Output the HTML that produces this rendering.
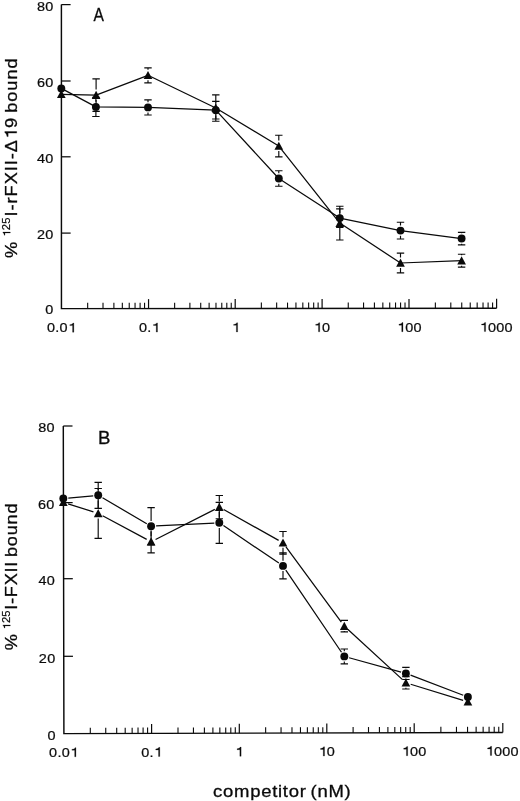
<!DOCTYPE html>
<html><head><meta charset="utf-8"><title>chart</title>
<style>html,body{margin:0;padding:0;background:#fff}body{width:520px;height:801px;overflow:hidden}text{font-family:"Liberation Sans",sans-serif;white-space:pre}</style>
</head><body>
<svg width="520" height="801" viewBox="0 0 520 801" style="display:block;filter:grayscale(1)">
<rect width="520" height="801" fill="#fff"/>
<path d="M61.4 4.6 L61.45 308.6 L496.6 308.2" stroke="#0a0a0a" stroke-width="1.45" fill="none"/>
<path d="M61.4 4.6 H70.6" stroke="#0a0a0a" stroke-width="1.25"/>
<g transform="translate(37.56 10.6)"><text transform="translate(-0.63 0) scale(1.1023 1)" font-size="13.1" fill="#0a0a0a" stroke="#0a0a0a" stroke-width="0.22">8</text><text transform="translate(7.67 0) scale(1.1023 1)" font-size="13.1" fill="#0a0a0a" stroke="#0a0a0a" stroke-width="0.22">0</text></g>
<path d="M61.41 81 H70.61" stroke="#0a0a0a" stroke-width="1.25"/>
<g transform="translate(37.67 86.8)"><text transform="translate(-0.73 0) scale(1.1023 1)" font-size="13.1" fill="#0a0a0a" stroke="#0a0a0a" stroke-width="0.22">6</text><text transform="translate(7.57 0) scale(1.1023 1)" font-size="13.1" fill="#0a0a0a" stroke="#0a0a0a" stroke-width="0.22">0</text></g>
<path d="M61.42 156.8 H70.62" stroke="#0a0a0a" stroke-width="1.25"/>
<g transform="translate(37.26 163.1)"><text transform="translate(-0.33 0) scale(1.1023 1)" font-size="13.1" fill="#0a0a0a" stroke="#0a0a0a" stroke-width="0.22">4</text><text transform="translate(7.97 0) scale(1.1023 1)" font-size="13.1" fill="#0a0a0a" stroke="#0a0a0a" stroke-width="0.22">0</text></g>
<path d="M61.44 233.1 H70.64" stroke="#0a0a0a" stroke-width="1.25"/>
<g transform="translate(37.66 239.2)"><text transform="translate(-0.73 0) scale(1.1023 1)" font-size="13.1" fill="#0a0a0a" stroke="#0a0a0a" stroke-width="0.22">2</text><text transform="translate(7.57 0) scale(1.1023 1)" font-size="13.1" fill="#0a0a0a" stroke="#0a0a0a" stroke-width="0.22">0</text></g>
<g transform="translate(45.8 314.2)"><text transform="translate(-0.56 0) scale(1.1023 1)" font-size="13.1" fill="#0a0a0a" stroke="#0a0a0a" stroke-width="0.22">0</text></g>
<g transform="translate(47.54 332.2)"><text transform="translate(-0.56 0) scale(1.1023 1)" font-size="13.1" fill="#0a0a0a" stroke="#0a0a0a" stroke-width="0.22">0</text><text transform="translate(7.74 0) scale(1.1023 1)" font-size="13.1" fill="#0a0a0a" stroke="#0a0a0a" stroke-width="0.22">.</text><text transform="translate(12.02 0) scale(1.1023 1)" font-size="13.1" fill="#0a0a0a" stroke="#0a0a0a" stroke-width="0.22">0</text><path transform="translate(20.32 0) scale(1.1023 1)" d="M5.44 0 L5.44 -9.17 L4.62 -9.17 C4.32 -8.19 2.95 -7.57 1.77 -7.49 L1.77 -6.59 L4.28 -6.59 L4.28 0 Z" fill="#0a0a0a" stroke="#0a0a0a" stroke-width="0.22"/></g>
<path d="M87.67 308.58 V302.78" stroke="#0a0a0a" stroke-width="1.1"/>
<path d="M103.01 308.56 V302.76" stroke="#0a0a0a" stroke-width="1.1"/>
<path d="M113.89 308.55 V302.75" stroke="#0a0a0a" stroke-width="1.1"/>
<path d="M122.33 308.54 V302.74" stroke="#0a0a0a" stroke-width="1.1"/>
<path d="M129.23 308.54 V302.74" stroke="#0a0a0a" stroke-width="1.1"/>
<path d="M135.06 308.53 V302.73" stroke="#0a0a0a" stroke-width="1.1"/>
<path d="M140.11 308.53 V302.73" stroke="#0a0a0a" stroke-width="1.1"/>
<path d="M144.56 308.52 V302.72" stroke="#0a0a0a" stroke-width="1.1"/>
<path d="M148.55 308.52 V299.12" stroke="#0a0a0a" stroke-width="1.2"/>
<g transform="translate(139.49 332.08)"><text transform="translate(-0.56 0) scale(1.1023 1)" font-size="13.1" fill="#0a0a0a" stroke="#0a0a0a" stroke-width="0.22">0</text><text transform="translate(7.74 0) scale(1.1023 1)" font-size="13.1" fill="#0a0a0a" stroke="#0a0a0a" stroke-width="0.22">.</text><path transform="translate(12.02 0) scale(1.1023 1)" d="M5.44 0 L5.44 -9.17 L4.62 -9.17 C4.32 -8.19 2.95 -7.57 1.77 -7.49 L1.77 -6.59 L4.28 -6.59 L4.28 0 Z" fill="#0a0a0a" stroke="#0a0a0a" stroke-width="0.22"/></g>
<path d="M174.63 308.5 V302.7" stroke="#0a0a0a" stroke-width="1.1"/>
<path d="M189.89 308.48 V302.68" stroke="#0a0a0a" stroke-width="1.1"/>
<path d="M200.72 308.47 V302.67" stroke="#0a0a0a" stroke-width="1.1"/>
<path d="M209.12 308.46 V302.66" stroke="#0a0a0a" stroke-width="1.1"/>
<path d="M215.98 308.46 V302.66" stroke="#0a0a0a" stroke-width="1.1"/>
<path d="M221.78 308.45 V302.65" stroke="#0a0a0a" stroke-width="1.1"/>
<path d="M226.8 308.45 V302.65" stroke="#0a0a0a" stroke-width="1.1"/>
<path d="M231.24 308.44 V302.64" stroke="#0a0a0a" stroke-width="1.1"/>
<path d="M235.2 308.44 V299.04" stroke="#0a0a0a" stroke-width="1.2"/>
<g transform="translate(233.58 331.96)"><path transform="translate(-1.95 0) scale(1.1023 1)" d="M5.44 0 L5.44 -9.17 L4.62 -9.17 C4.32 -8.19 2.95 -7.57 1.77 -7.49 L1.77 -6.59 L4.28 -6.59 L4.28 0 Z" fill="#0a0a0a" stroke="#0a0a0a" stroke-width="0.22"/></g>
<path d="M261.36 308.42 V302.62" stroke="#0a0a0a" stroke-width="1.1"/>
<path d="M276.66 308.4 V302.6" stroke="#0a0a0a" stroke-width="1.1"/>
<path d="M287.52 308.39 V302.59" stroke="#0a0a0a" stroke-width="1.1"/>
<path d="M295.94 308.38 V302.58" stroke="#0a0a0a" stroke-width="1.1"/>
<path d="M302.82 308.38 V302.58" stroke="#0a0a0a" stroke-width="1.1"/>
<path d="M308.64 308.37 V302.57" stroke="#0a0a0a" stroke-width="1.1"/>
<path d="M313.68 308.37 V302.57" stroke="#0a0a0a" stroke-width="1.1"/>
<path d="M318.12 308.36 V302.56" stroke="#0a0a0a" stroke-width="1.1"/>
<path d="M322.1 308.36 V298.96" stroke="#0a0a0a" stroke-width="1.2"/>
<g transform="translate(315.69 331.84)"><path transform="translate(-1.95 0) scale(1.1023 1)" d="M5.44 0 L5.44 -9.17 L4.62 -9.17 C4.32 -8.19 2.95 -7.57 1.77 -7.49 L1.77 -6.59 L4.28 -6.59 L4.28 0 Z" fill="#0a0a0a" stroke="#0a0a0a" stroke-width="0.22"/><text transform="translate(6.35 0) scale(1.1023 1)" font-size="13.1" fill="#0a0a0a" stroke="#0a0a0a" stroke-width="0.22">0</text></g>
<path d="M348.26 308.34 V302.54" stroke="#0a0a0a" stroke-width="1.1"/>
<path d="M363.56 308.32 V302.52" stroke="#0a0a0a" stroke-width="1.1"/>
<path d="M374.42 308.31 V302.51" stroke="#0a0a0a" stroke-width="1.1"/>
<path d="M382.84 308.3 V302.5" stroke="#0a0a0a" stroke-width="1.1"/>
<path d="M389.72 308.3 V302.5" stroke="#0a0a0a" stroke-width="1.1"/>
<path d="M395.54 308.29 V302.49" stroke="#0a0a0a" stroke-width="1.1"/>
<path d="M400.58 308.29 V302.49" stroke="#0a0a0a" stroke-width="1.1"/>
<path d="M405.02 308.28 V302.48" stroke="#0a0a0a" stroke-width="1.1"/>
<path d="M409 308.28 V298.88" stroke="#0a0a0a" stroke-width="1.2"/>
<g transform="translate(398.94 331.72)"><path transform="translate(-1.95 0) scale(1.1023 1)" d="M5.44 0 L5.44 -9.17 L4.62 -9.17 C4.32 -8.19 2.95 -7.57 1.77 -7.49 L1.77 -6.59 L4.28 -6.59 L4.28 0 Z" fill="#0a0a0a" stroke="#0a0a0a" stroke-width="0.22"/><text transform="translate(6.35 0) scale(1.1023 1)" font-size="13.1" fill="#0a0a0a" stroke="#0a0a0a" stroke-width="0.22">0</text><text transform="translate(14.65 0) scale(1.1023 1)" font-size="13.1" fill="#0a0a0a" stroke="#0a0a0a" stroke-width="0.22">0</text></g>
<path d="M435.37 308.26 V302.46" stroke="#0a0a0a" stroke-width="1.1"/>
<path d="M450.8 308.24 V302.44" stroke="#0a0a0a" stroke-width="1.1"/>
<path d="M461.74 308.23 V302.43" stroke="#0a0a0a" stroke-width="1.1"/>
<path d="M470.23 308.22 V302.42" stroke="#0a0a0a" stroke-width="1.1"/>
<path d="M477.17 308.22 V302.42" stroke="#0a0a0a" stroke-width="1.1"/>
<path d="M483.03 308.21 V302.41" stroke="#0a0a0a" stroke-width="1.1"/>
<path d="M488.11 308.21 V302.41" stroke="#0a0a0a" stroke-width="1.1"/>
<path d="M492.59 308.2 V302.4" stroke="#0a0a0a" stroke-width="1.1"/>
<path d="M496.6 308.2 V298.8" stroke="#0a0a0a" stroke-width="1.2"/>
<g transform="translate(481.59 331.6)"><path transform="translate(-1.95 0) scale(1.1023 1)" d="M5.44 0 L5.44 -9.17 L4.62 -9.17 C4.32 -8.19 2.95 -7.57 1.77 -7.49 L1.77 -6.59 L4.28 -6.59 L4.28 0 Z" fill="#0a0a0a" stroke="#0a0a0a" stroke-width="0.22"/><text transform="translate(6.35 0) scale(1.1023 1)" font-size="13.1" fill="#0a0a0a" stroke="#0a0a0a" stroke-width="0.22">0</text><text transform="translate(14.65 0) scale(1.1023 1)" font-size="13.1" fill="#0a0a0a" stroke="#0a0a0a" stroke-width="0.22">0</text><text transform="translate(22.95 0) scale(1.1023 1)" font-size="13.1" fill="#0a0a0a" stroke="#0a0a0a" stroke-width="0.22">0</text></g>
<g transform="translate(93.49 20.9)"><text transform="translate(-0.03 0) scale(0.8420 1)" font-size="18.5" fill="#0a0a0a" stroke="#0a0a0a" stroke-width="0.3">A</text></g>
<path d="M61.3 88.4 L95.9 106.9 M95.9 106.9 L148 107.4 M148 107.4 L215.8 110.2 M215.8 110.2 L278.8 178.5 M278.8 178.5 L339.8 218.1 M339.8 218.1 L400.5 230.6 M400.5 230.6 L461.6 238.55" stroke="#0a0a0a" stroke-width="1.25" fill="none"/>
<path d="M61.3 94.3 L96.1 95.1 M96.1 95.1 L148 75.3 M148 75.3 L215.8 108 M215.8 108 L278.8 146.05 M278.8 146.05 L339.8 223.1 M339.8 223.1 L400.5 263 M400.5 263 L461.6 260.7" stroke="#0a0a0a" stroke-width="1.25" fill="none"/>
<path d="M92.2 116.5 H99.6 M92.2 97.3 H99.6 M95.9 97.3 V101.7 M95.9 112.1 V116.5" stroke="#0a0a0a" stroke-width="1.15" fill="none"/>
<path d="M144.3 115 H151.7 M144.3 99.8 H151.7 M148 99.8 V102.2 M148 112.6 V115" stroke="#0a0a0a" stroke-width="1.15" fill="none"/>
<path d="M212.1 119 H219.5 M212.1 101.4 H219.5 M215.8 101.4 V105 M215.8 115.4 V119" stroke="#0a0a0a" stroke-width="1.15" fill="none"/>
<path d="M275.1 186.25 H282.5 M275.1 170.75 H282.5 M278.8 170.75 V173.3 M278.8 183.7 V186.25" stroke="#0a0a0a" stroke-width="1.15" fill="none"/>
<path d="M336.1 227.4 H343.5 M336.1 208.8 H343.5 M339.8 208.8 V212.9 M339.8 223.3 V227.4" stroke="#0a0a0a" stroke-width="1.15" fill="none"/>
<path d="M396.8 239 H404.2 M396.8 222.2 H404.2 M400.5 222.2 V225.4 M400.5 235.8 V239" stroke="#0a0a0a" stroke-width="1.15" fill="none"/>
<path d="M457.9 244.8 H465.3 M457.9 232.3 H465.3 M461.6 232.3 V233.35 M461.6 243.75 V244.8" stroke="#0a0a0a" stroke-width="1.15" fill="none"/>
<path d="M92.4 111.3 H99.8 M92.4 78.9 H99.8 M96.1 78.9 V89.6 M96.1 100.1 V111.3" stroke="#0a0a0a" stroke-width="1.15" fill="none"/>
<path d="M144.3 82.8 H151.7 M144.3 67.8 H151.7 M148 67.8 V69.8 M148 80.3 V82.8" stroke="#0a0a0a" stroke-width="1.15" fill="none"/>
<path d="M212.1 121.2 H219.5 M212.1 94.8 H219.5 M215.8 94.8 V102.5 M215.8 113 V121.2" stroke="#0a0a0a" stroke-width="1.15" fill="none"/>
<path d="M275.1 156.9 H282.5 M275.1 135.2 H282.5 M278.8 135.2 V140.55 M278.8 151.05 V156.9" stroke="#0a0a0a" stroke-width="1.15" fill="none"/>
<path d="M336.1 240 H343.5 M336.1 206.2 H343.5 M339.8 206.2 V217.6 M339.8 228.1 V240" stroke="#0a0a0a" stroke-width="1.15" fill="none"/>
<path d="M396.8 272.9 H404.2 M396.8 253.1 H404.2 M400.5 253.1 V257.5 M400.5 268 V272.9" stroke="#0a0a0a" stroke-width="1.15" fill="none"/>
<path d="M457.9 267.15 H465.3 M457.9 254.25 H465.3 M461.6 254.25 V255.2 M461.6 265.7 V267.15" stroke="#0a0a0a" stroke-width="1.15" fill="none"/>
<path d="M61.3 89.9 L65.65 98.1 L56.95 98.1 Z" fill="#0a0a0a"/>
<path d="M96.1 90.7 L100.45 98.9 L91.75 98.9 Z" fill="#0a0a0a"/>
<path d="M148 70.9 L152.35 79.1 L143.65 79.1 Z" fill="#0a0a0a"/>
<path d="M215.8 103.6 L220.15 111.8 L211.45 111.8 Z" fill="#0a0a0a"/>
<path d="M278.8 141.65 L283.15 149.85 L274.45 149.85 Z" fill="#0a0a0a"/>
<path d="M339.8 218.7 L344.15 226.9 L335.45 226.9 Z" fill="#0a0a0a"/>
<path d="M400.5 258.6 L404.85 266.8 L396.15 266.8 Z" fill="#0a0a0a"/>
<path d="M461.6 256.3 L465.95 264.5 L457.25 264.5 Z" fill="#0a0a0a"/>
<circle cx="61.3" cy="88.4" r="3.95" fill="#0a0a0a"/>
<circle cx="95.9" cy="106.9" r="3.95" fill="#0a0a0a"/>
<circle cx="148" cy="107.4" r="3.95" fill="#0a0a0a"/>
<circle cx="215.8" cy="110.2" r="3.95" fill="#0a0a0a"/>
<circle cx="278.8" cy="178.5" r="3.95" fill="#0a0a0a"/>
<circle cx="339.8" cy="218.1" r="3.95" fill="#0a0a0a"/>
<circle cx="400.5" cy="230.6" r="3.95" fill="#0a0a0a"/>
<circle cx="461.6" cy="238.55" r="3.95" fill="#0a0a0a"/>
<path d="M63.3 426 L63.9 733.6 L502.8 732.5" stroke="#0a0a0a" stroke-width="1.45" fill="none"/>
<path d="M63.3 426 H72.5" stroke="#0a0a0a" stroke-width="1.25"/>
<g transform="translate(38.76 431.6)"><text transform="translate(-0.63 0) scale(1.1023 1)" font-size="13.1" fill="#0a0a0a" stroke="#0a0a0a" stroke-width="0.22">8</text><text transform="translate(7.67 0) scale(1.1023 1)" font-size="13.1" fill="#0a0a0a" stroke="#0a0a0a" stroke-width="0.22">0</text></g>
<path d="M63.45 502.6 H72.65" stroke="#0a0a0a" stroke-width="1.25"/>
<g transform="translate(38.77 508.6)"><text transform="translate(-0.73 0) scale(1.1023 1)" font-size="13.1" fill="#0a0a0a" stroke="#0a0a0a" stroke-width="0.22">6</text><text transform="translate(7.57 0) scale(1.1023 1)" font-size="13.1" fill="#0a0a0a" stroke="#0a0a0a" stroke-width="0.22">0</text></g>
<path d="M63.6 578.7 H72.8" stroke="#0a0a0a" stroke-width="1.25"/>
<g transform="translate(38.76 584.5)"><text transform="translate(-0.33 0) scale(1.1023 1)" font-size="13.1" fill="#0a0a0a" stroke="#0a0a0a" stroke-width="0.22">4</text><text transform="translate(7.97 0) scale(1.1023 1)" font-size="13.1" fill="#0a0a0a" stroke="#0a0a0a" stroke-width="0.22">0</text></g>
<path d="M63.75 656.3 H72.95" stroke="#0a0a0a" stroke-width="1.25"/>
<g transform="translate(39.56 662.5)"><text transform="translate(-0.73 0) scale(1.1023 1)" font-size="13.1" fill="#0a0a0a" stroke="#0a0a0a" stroke-width="0.22">2</text><text transform="translate(7.57 0) scale(1.1023 1)" font-size="13.1" fill="#0a0a0a" stroke="#0a0a0a" stroke-width="0.22">0</text></g>
<g transform="translate(48.1 739.5)"><text transform="translate(-0.56 0) scale(1.1023 1)" font-size="13.1" fill="#0a0a0a" stroke="#0a0a0a" stroke-width="0.22">0</text></g>
<g transform="translate(49.64 756.8)"><text transform="translate(-0.56 0) scale(1.1023 1)" font-size="13.1" fill="#0a0a0a" stroke="#0a0a0a" stroke-width="0.22">0</text><text transform="translate(7.74 0) scale(1.1023 1)" font-size="13.1" fill="#0a0a0a" stroke="#0a0a0a" stroke-width="0.22">.</text><text transform="translate(12.02 0) scale(1.1023 1)" font-size="13.1" fill="#0a0a0a" stroke="#0a0a0a" stroke-width="0.22">0</text><path transform="translate(20.32 0) scale(1.1023 1)" d="M5.44 0 L5.44 -9.17 L4.62 -9.17 C4.32 -8.19 2.95 -7.57 1.77 -7.49 L1.77 -6.59 L4.28 -6.59 L4.28 0 Z" fill="#0a0a0a" stroke="#0a0a0a" stroke-width="0.22"/></g>
<path d="M90.3 733.53 V727.73" stroke="#0a0a0a" stroke-width="1.1"/>
<path d="M105.74 733.5 V727.7" stroke="#0a0a0a" stroke-width="1.1"/>
<path d="M116.7 733.47 V727.67" stroke="#0a0a0a" stroke-width="1.1"/>
<path d="M125.2 733.45 V727.65" stroke="#0a0a0a" stroke-width="1.1"/>
<path d="M132.14 733.43 V727.63" stroke="#0a0a0a" stroke-width="1.1"/>
<path d="M138.02 733.41 V727.61" stroke="#0a0a0a" stroke-width="1.1"/>
<path d="M143.1 733.4 V727.6" stroke="#0a0a0a" stroke-width="1.1"/>
<path d="M147.59 733.39 V727.59" stroke="#0a0a0a" stroke-width="1.1"/>
<path d="M151.6 733.38 V723.98" stroke="#0a0a0a" stroke-width="1.2"/>
<g transform="translate(141.79 756.54)"><text transform="translate(-0.56 0) scale(1.1023 1)" font-size="13.1" fill="#0a0a0a" stroke="#0a0a0a" stroke-width="0.22">0</text><text transform="translate(7.74 0) scale(1.1023 1)" font-size="13.1" fill="#0a0a0a" stroke="#0a0a0a" stroke-width="0.22">.</text><path transform="translate(12.02 0) scale(1.1023 1)" d="M5.44 0 L5.44 -9.17 L4.62 -9.17 C4.32 -8.19 2.95 -7.57 1.77 -7.49 L1.77 -6.59 L4.28 -6.59 L4.28 0 Z" fill="#0a0a0a" stroke="#0a0a0a" stroke-width="0.22"/></g>
<path d="M178 733.31 V727.51" stroke="#0a0a0a" stroke-width="1.1"/>
<path d="M193.44 733.28 V727.48" stroke="#0a0a0a" stroke-width="1.1"/>
<path d="M204.4 733.25 V727.45" stroke="#0a0a0a" stroke-width="1.1"/>
<path d="M212.9 733.23 V727.43" stroke="#0a0a0a" stroke-width="1.1"/>
<path d="M219.84 733.21 V727.41" stroke="#0a0a0a" stroke-width="1.1"/>
<path d="M225.72 733.19 V727.39" stroke="#0a0a0a" stroke-width="1.1"/>
<path d="M230.8 733.18 V727.38" stroke="#0a0a0a" stroke-width="1.1"/>
<path d="M235.29 733.17 V727.37" stroke="#0a0a0a" stroke-width="1.1"/>
<path d="M239.3 733.16 V723.76" stroke="#0a0a0a" stroke-width="1.2"/>
<g transform="translate(237.08 756.28)"><path transform="translate(-1.95 0) scale(1.1023 1)" d="M5.44 0 L5.44 -9.17 L4.62 -9.17 C4.32 -8.19 2.95 -7.57 1.77 -7.49 L1.77 -6.59 L4.28 -6.59 L4.28 0 Z" fill="#0a0a0a" stroke="#0a0a0a" stroke-width="0.22"/></g>
<path d="M265.64 733.09 V727.29" stroke="#0a0a0a" stroke-width="1.1"/>
<path d="M281.05 733.06 V727.26" stroke="#0a0a0a" stroke-width="1.1"/>
<path d="M291.98 733.03 V727.23" stroke="#0a0a0a" stroke-width="1.1"/>
<path d="M300.46 733.01 V727.21" stroke="#0a0a0a" stroke-width="1.1"/>
<path d="M307.39 732.99 V727.19" stroke="#0a0a0a" stroke-width="1.1"/>
<path d="M313.25 732.98 V727.18" stroke="#0a0a0a" stroke-width="1.1"/>
<path d="M318.32 732.96 V727.16" stroke="#0a0a0a" stroke-width="1.1"/>
<path d="M322.8 732.95 V727.15" stroke="#0a0a0a" stroke-width="1.1"/>
<path d="M326.8 732.94 V723.54" stroke="#0a0a0a" stroke-width="1.2"/>
<g transform="translate(320.49 756.02)"><path transform="translate(-1.95 0) scale(1.1023 1)" d="M5.44 0 L5.44 -9.17 L4.62 -9.17 C4.32 -8.19 2.95 -7.57 1.77 -7.49 L1.77 -6.59 L4.28 -6.59 L4.28 0 Z" fill="#0a0a0a" stroke="#0a0a0a" stroke-width="0.22"/><text transform="translate(6.35 0) scale(1.1023 1)" font-size="13.1" fill="#0a0a0a" stroke="#0a0a0a" stroke-width="0.22">0</text></g>
<path d="M353.11 732.88 V727.08" stroke="#0a0a0a" stroke-width="1.1"/>
<path d="M368.5 732.84 V727.04" stroke="#0a0a0a" stroke-width="1.1"/>
<path d="M379.42 732.81 V727.01" stroke="#0a0a0a" stroke-width="1.1"/>
<path d="M387.89 732.79 V726.99" stroke="#0a0a0a" stroke-width="1.1"/>
<path d="M394.81 732.77 V726.97" stroke="#0a0a0a" stroke-width="1.1"/>
<path d="M400.66 732.76 V726.96" stroke="#0a0a0a" stroke-width="1.1"/>
<path d="M405.73 732.74 V726.94" stroke="#0a0a0a" stroke-width="1.1"/>
<path d="M410.2 732.73 V726.93" stroke="#0a0a0a" stroke-width="1.1"/>
<path d="M414.2 732.72 V723.32" stroke="#0a0a0a" stroke-width="1.2"/>
<g transform="translate(403.64 755.76)"><path transform="translate(-1.95 0) scale(1.1023 1)" d="M5.44 0 L5.44 -9.17 L4.62 -9.17 C4.32 -8.19 2.95 -7.57 1.77 -7.49 L1.77 -6.59 L4.28 -6.59 L4.28 0 Z" fill="#0a0a0a" stroke="#0a0a0a" stroke-width="0.22"/><text transform="translate(6.35 0) scale(1.1023 1)" font-size="13.1" fill="#0a0a0a" stroke="#0a0a0a" stroke-width="0.22">0</text><text transform="translate(14.65 0) scale(1.1023 1)" font-size="13.1" fill="#0a0a0a" stroke="#0a0a0a" stroke-width="0.22">0</text></g>
<path d="M440.87 732.66 V726.86" stroke="#0a0a0a" stroke-width="1.1"/>
<path d="M456.47 732.62 V726.82" stroke="#0a0a0a" stroke-width="1.1"/>
<path d="M467.54 732.59 V726.79" stroke="#0a0a0a" stroke-width="1.1"/>
<path d="M476.13 732.57 V726.77" stroke="#0a0a0a" stroke-width="1.1"/>
<path d="M483.14 732.55 V726.75" stroke="#0a0a0a" stroke-width="1.1"/>
<path d="M489.08 732.53 V726.73" stroke="#0a0a0a" stroke-width="1.1"/>
<path d="M494.21 732.52 V726.72" stroke="#0a0a0a" stroke-width="1.1"/>
<path d="M498.75 732.51 V726.71" stroke="#0a0a0a" stroke-width="1.1"/>
<path d="M502.8 732.5 V723.1" stroke="#0a0a0a" stroke-width="1.2"/>
<g transform="translate(487.59 755.5)"><path transform="translate(-1.95 0) scale(1.1023 1)" d="M5.44 0 L5.44 -9.17 L4.62 -9.17 C4.32 -8.19 2.95 -7.57 1.77 -7.49 L1.77 -6.59 L4.28 -6.59 L4.28 0 Z" fill="#0a0a0a" stroke="#0a0a0a" stroke-width="0.22"/><text transform="translate(6.35 0) scale(1.1023 1)" font-size="13.1" fill="#0a0a0a" stroke="#0a0a0a" stroke-width="0.22">0</text><text transform="translate(14.65 0) scale(1.1023 1)" font-size="13.1" fill="#0a0a0a" stroke="#0a0a0a" stroke-width="0.22">0</text><text transform="translate(22.95 0) scale(1.1023 1)" font-size="13.1" fill="#0a0a0a" stroke="#0a0a0a" stroke-width="0.22">0</text></g>
<g transform="translate(99.65 443.5)"><text transform="translate(-1.53 0) scale(0.9900 1)" font-size="18.8" fill="#0a0a0a" stroke="#0a0a0a" stroke-width="0.3">B</text></g>
<path d="M68.28 498.04 L93.22 495.76 M102.52 497.82 L146.78 523.68 M156.09 525.95 L214.31 523.05 M223.44 525.6 L278.86 563.1 M285.8 570.04 L341.5 652.26 M349.12 657.73 L401.08 672.07 M410.57 675.18 L463.23 695.22" stroke="#0a0a0a" stroke-width="1.25" fill="none"/>
<path d="M68.06 503.82 L93.44 511.88 M102.61 515.76 L146.69 539.34 M155.56 539.44 L214.84 509.36 M223.66 509.54 L278.64 540.36 M285.96 546.83 L341.34 622.07 M347.98 629.49 L402.22 679.41 M410.68 684.27 L463.12 700.33" stroke="#0a0a0a" stroke-width="1.25" fill="none"/>
<path d="M94.5 508.3 H101.9 M94.5 482.3 H101.9 M98.2 482.3 V490.1 M98.2 500.5 V508.3" stroke="#0a0a0a" stroke-width="1.15" fill="none"/>
<path d="M147.4 544.8 H154.8 M147.4 507.6 H154.8 M151.1 507.6 V521 M151.1 531.4 V544.8" stroke="#0a0a0a" stroke-width="1.15" fill="none"/>
<path d="M215.6 543.3 H223 M215.6 502.3 H223 M219.3 502.3 V517.6 M219.3 528 V543.3" stroke="#0a0a0a" stroke-width="1.15" fill="none"/>
<path d="M279.3 578.9 H286.7 M279.3 552.9 H286.7 M283 552.9 V560.7 M283 571.1 V578.9" stroke="#0a0a0a" stroke-width="1.15" fill="none"/>
<path d="M340.6 663.85 H348 M340.6 648.95 H348 M344.3 648.95 V651.2 M344.3 661.6 V663.85" stroke="#0a0a0a" stroke-width="1.15" fill="none"/>
<path d="M402.2 679.5 H409.6 M402.2 667.3 H409.6 M405.9 667.3 V668.2 M405.9 678.6 V679.5" stroke="#0a0a0a" stroke-width="1.15" fill="none"/>
<path d="M94.5 538.3 H101.9 M94.5 488.5 H101.9 M98.2 488.5 V507.9 M98.2 518.4 V538.3" stroke="#0a0a0a" stroke-width="1.15" fill="none"/>
<path d="M147.4 552.8 H154.8 M151.1 530.6 V536.2 M151.1 544.7 V552.8" stroke="#0a0a0a" stroke-width="1.15" fill="none"/>
<path d="M215.6 518.7 H223 M215.6 495.5 H223 M219.3 495.5 V501.6 M219.3 512.1 V518.7" stroke="#0a0a0a" stroke-width="1.15" fill="none"/>
<path d="M279.3 554.1 H286.7 M279.3 531.5 H286.7 M283 531.5 V537.3 M283 547.8 V554.1" stroke="#0a0a0a" stroke-width="1.15" fill="none"/>
<path d="M340.6 631.8 H348 M340.6 620.4 H348 M344.3 620.4 V620.6 M344.3 631.1 V631.8" stroke="#0a0a0a" stroke-width="1.15" fill="none"/>
<path d="M402.2 689 H409.6 M402.2 676.6 H409.6 M405.9 676.6 V677.3 M405.9 687.8 V689" stroke="#0a0a0a" stroke-width="1.15" fill="none"/>
<path d="M63.3 497.9 L67.65 506.1 L58.95 506.1 Z" fill="#0a0a0a"/>
<path d="M98.2 509 L102.55 517.2 L93.85 517.2 Z" fill="#0a0a0a"/>
<path d="M151.1 537.3 L155.45 545.5 L146.75 545.5 Z" fill="#0a0a0a"/>
<path d="M219.3 502.7 L223.65 510.9 L214.95 510.9 Z" fill="#0a0a0a"/>
<path d="M283 538.4 L287.35 546.6 L278.65 546.6 Z" fill="#0a0a0a"/>
<path d="M344.3 621.7 L348.65 629.9 L339.95 629.9 Z" fill="#0a0a0a"/>
<path d="M405.9 678.4 L410.25 686.6 L401.55 686.6 Z" fill="#0a0a0a"/>
<path d="M467.9 697.4 L472.25 705.6 L463.55 705.6 Z" fill="#0a0a0a"/>
<circle cx="63.3" cy="498.5" r="3.95" fill="#0a0a0a"/>
<circle cx="98.2" cy="495.3" r="3.95" fill="#0a0a0a"/>
<circle cx="151.1" cy="526.2" r="3.95" fill="#0a0a0a"/>
<circle cx="219.3" cy="522.8" r="3.95" fill="#0a0a0a"/>
<circle cx="283" cy="565.9" r="3.95" fill="#0a0a0a"/>
<circle cx="344.3" cy="656.4" r="3.95" fill="#0a0a0a"/>
<circle cx="405.9" cy="673.4" r="3.95" fill="#0a0a0a"/>
<circle cx="467.9" cy="697" r="3.95" fill="#0a0a0a"/>
<g transform="translate(16.7 257.3) rotate(-90)"><text transform="translate(-0.65 0) scale(1.0729 1)" font-size="17" fill="#0a0a0a" stroke="#0a0a0a" stroke-width="0.3">%</text><g transform="translate(20.6 -6.4)"><path transform="translate(0 0) scale(1.0585 1)" d="M4.4 0 L4.4 -7.42 L3.74 -7.42 C3.5 -6.62 2.38 -6.13 1.43 -6.06 L1.43 -5.33 L3.47 -5.33 L3.47 0 Z" fill="#0a0a0a" stroke="#0a0a0a" stroke-width="0.2"/><text transform="translate(6.52 0) scale(1.0585 1)" font-size="10.6" fill="#0a0a0a" stroke="#0a0a0a" stroke-width="0.2">2</text><text transform="translate(13.05 0) scale(1.0585 1)" font-size="10.6" fill="#0a0a0a" stroke="#0a0a0a" stroke-width="0.2">5</text></g><text transform="translate(40.82 0) scale(1.0729 1)" font-size="17" fill="#0a0a0a" stroke="#0a0a0a" stroke-width="0.3">I</text><text transform="translate(46.83 0) scale(1.1190 1)" font-size="16.3" fill="#0a0a0a" stroke="#0a0a0a" stroke-width="0.3">-</text><text transform="translate(53.85 0) scale(1.1190 1)" font-size="16.3" fill="#0a0a0a" stroke="#0a0a0a" stroke-width="0.3">r</text><text transform="translate(60.87 0) scale(1.0729 1)" font-size="17" fill="#0a0a0a" stroke="#0a0a0a" stroke-width="0.3">F</text><text transform="translate(72.95 0) scale(1.0729 1)" font-size="17" fill="#0a0a0a" stroke="#0a0a0a" stroke-width="0.3">X</text><text transform="translate(86.06 0) scale(1.0729 1)" font-size="17" fill="#0a0a0a" stroke="#0a0a0a" stroke-width="0.3">I</text><text transform="translate(92.07 0) scale(1.0729 1)" font-size="17" fill="#0a0a0a" stroke="#0a0a0a" stroke-width="0.3">I</text><text transform="translate(98.08 0) scale(1.1190 1)" font-size="16.3" fill="#0a0a0a" stroke="#0a0a0a" stroke-width="0.3">-</text><text transform="translate(105.1 0) scale(1.0729 1)" font-size="17" fill="#0a0a0a" stroke="#0a0a0a" stroke-width="0.3">Δ</text><path transform="translate(118.23 0) scale(1.0729 1)" d="M7.05 0 L7.05 -11.9 L6 -11.9 C5.61 -10.62 3.83 -9.83 2.29 -9.72 L2.29 -8.55 L5.56 -8.55 L5.56 0 Z" fill="#0a0a0a" stroke="#0a0a0a" stroke-width="0.3"/><text transform="translate(129.31 0) scale(1.0729 1)" font-size="17" fill="#0a0a0a" stroke="#0a0a0a" stroke-width="0.3">9</text><text transform="translate(144.48 0) scale(1.1190 1)" font-size="16.3" fill="#0a0a0a" stroke="#0a0a0a" stroke-width="0.3">b</text><text transform="translate(155.57 0) scale(1.1190 1)" font-size="16.3" fill="#0a0a0a" stroke="#0a0a0a" stroke-width="0.3">o</text><text transform="translate(166.66 0) scale(1.1190 1)" font-size="16.3" fill="#0a0a0a" stroke="#0a0a0a" stroke-width="0.3">u</text><text transform="translate(177.74 0) scale(1.1190 1)" font-size="16.3" fill="#0a0a0a" stroke="#0a0a0a" stroke-width="0.3">n</text><text transform="translate(188.83 0) scale(1.1190 1)" font-size="16.3" fill="#0a0a0a" stroke="#0a0a0a" stroke-width="0.3">d</text></g>
<g transform="translate(16.7 649.7) rotate(-90)"><text transform="translate(-0.65 0) scale(1.0729 1)" font-size="17" fill="#0a0a0a" stroke="#0a0a0a" stroke-width="0.3">%</text><g transform="translate(20.13 -6.4)"><path transform="translate(0 0) scale(1.0585 1)" d="M4.4 0 L4.4 -7.42 L3.74 -7.42 C3.5 -6.62 2.38 -6.13 1.43 -6.06 L1.43 -5.33 L3.47 -5.33 L3.47 0 Z" fill="#0a0a0a" stroke="#0a0a0a" stroke-width="0.2"/><text transform="translate(6.45 0) scale(1.0585 1)" font-size="10.6" fill="#0a0a0a" stroke="#0a0a0a" stroke-width="0.2">2</text><text transform="translate(12.91 0) scale(1.0585 1)" font-size="10.6" fill="#0a0a0a" stroke="#0a0a0a" stroke-width="0.2">5</text></g><text transform="translate(39.99 0) scale(1.0729 1)" font-size="17" fill="#0a0a0a" stroke="#0a0a0a" stroke-width="0.3">I</text><text transform="translate(45.77 0) scale(1.1190 1)" font-size="16.3" fill="#0a0a0a" stroke="#0a0a0a" stroke-width="0.3">-</text><text transform="translate(52.56 0) scale(1.0729 1)" font-size="17" fill="#0a0a0a" stroke="#0a0a0a" stroke-width="0.3">F</text><text transform="translate(64.41 0) scale(1.0729 1)" font-size="17" fill="#0a0a0a" stroke="#0a0a0a" stroke-width="0.3">X</text><text transform="translate(77.29 0) scale(1.0729 1)" font-size="17" fill="#0a0a0a" stroke="#0a0a0a" stroke-width="0.3">I</text><text transform="translate(83.07 0) scale(1.0729 1)" font-size="17" fill="#0a0a0a" stroke="#0a0a0a" stroke-width="0.3">I</text><text transform="translate(92.71 0) scale(1.1190 1)" font-size="16.3" fill="#0a0a0a" stroke="#0a0a0a" stroke-width="0.3">b</text><text transform="translate(103.56 0) scale(1.1190 1)" font-size="16.3" fill="#0a0a0a" stroke="#0a0a0a" stroke-width="0.3">o</text><text transform="translate(114.42 0) scale(1.1190 1)" font-size="16.3" fill="#0a0a0a" stroke="#0a0a0a" stroke-width="0.3">u</text><text transform="translate(125.28 0) scale(1.1190 1)" font-size="16.3" fill="#0a0a0a" stroke="#0a0a0a" stroke-width="0.3">n</text><text transform="translate(136.13 0) scale(1.1190 1)" font-size="16.3" fill="#0a0a0a" stroke="#0a0a0a" stroke-width="0.3">d</text></g>
<g transform="translate(213.8 796.6)"><text transform="translate(-0.78 0) scale(1.1400 1)" font-size="16.2" fill="#0a0a0a" stroke="#0a0a0a" stroke-width="0.3">c</text><text transform="translate(9.19 0) scale(1.1400 1)" font-size="16.2" fill="#0a0a0a" stroke="#0a0a0a" stroke-width="0.3">o</text><text transform="translate(20.2 0) scale(1.1400 1)" font-size="16.2" fill="#0a0a0a" stroke="#0a0a0a" stroke-width="0.3">m</text><text transform="translate(36.33 0) scale(1.1400 1)" font-size="16.2" fill="#0a0a0a" stroke="#0a0a0a" stroke-width="0.3">p</text><text transform="translate(47.34 0) scale(1.1400 1)" font-size="16.2" fill="#0a0a0a" stroke="#0a0a0a" stroke-width="0.3">e</text><text transform="translate(58.35 0) scale(1.1400 1)" font-size="16.2" fill="#0a0a0a" stroke="#0a0a0a" stroke-width="0.3">t</text><text transform="translate(64.22 0) scale(1.1400 1)" font-size="16.2" fill="#0a0a0a" stroke="#0a0a0a" stroke-width="0.3">i</text><text transform="translate(69.07 0) scale(1.1400 1)" font-size="16.2" fill="#0a0a0a" stroke="#0a0a0a" stroke-width="0.3">t</text><text transform="translate(74.94 0) scale(1.1400 1)" font-size="16.2" fill="#0a0a0a" stroke="#0a0a0a" stroke-width="0.3">o</text><text transform="translate(85.95 0) scale(1.1400 1)" font-size="16.2" fill="#0a0a0a" stroke="#0a0a0a" stroke-width="0.3">r</text><text transform="translate(96.77 0) scale(1.0614 1)" font-size="17.4" fill="#0a0a0a" stroke="#0a0a0a" stroke-width="0.3">(</text><text transform="translate(103.66 0) scale(1.1400 1)" font-size="16.2" fill="#0a0a0a" stroke="#0a0a0a" stroke-width="0.3">n</text><text transform="translate(114.67 0) scale(1.0614 1)" font-size="17.4" fill="#0a0a0a" stroke="#0a0a0a" stroke-width="0.3">M</text><text transform="translate(130.8 0) scale(1.0614 1)" font-size="17.4" fill="#0a0a0a" stroke="#0a0a0a" stroke-width="0.3">)</text></g>
</svg>
</body></html>
